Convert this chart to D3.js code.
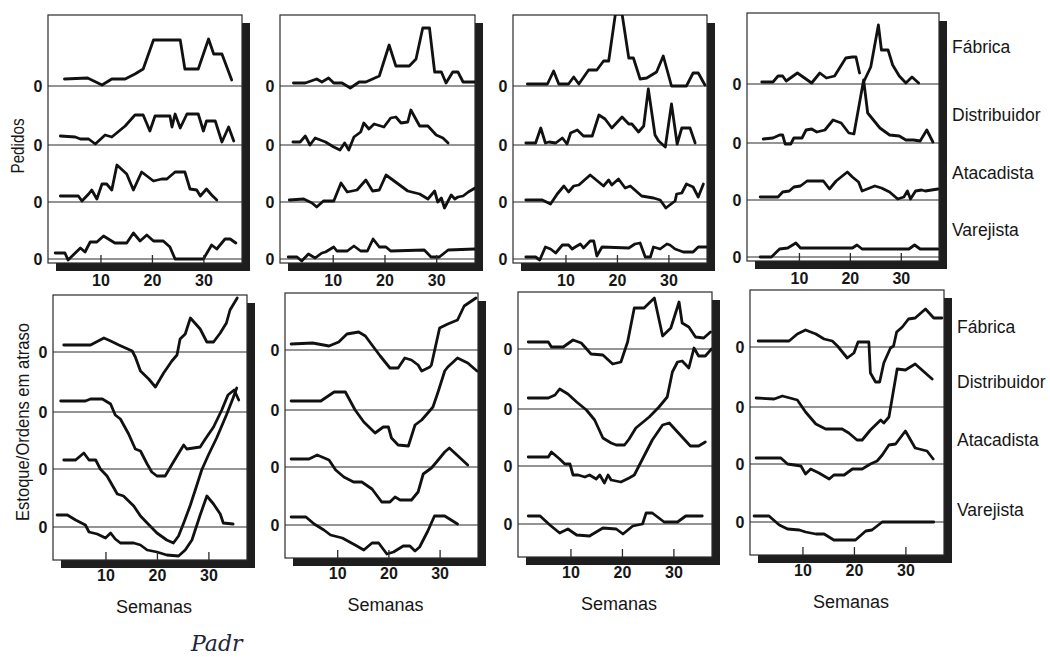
<!DOCTYPE html>
<html>
<head>
<meta charset="utf-8">
<script src="https://cdn.jsdelivr.net/npm/d3@7"></script>
<style>
  body { margin: 0; background: #fff; }
  svg { display: block; }
</style>
</head>
<body>
<svg id="chart" width="1050" height="657"></svg>
<script>
// Supply-chain roles, top to bottom in every panel
const roles = ["Fábrica", "Distribuidor", "Atacadista", "Varejista"];
const weekTicks = [10, 20, 30];

// Weekly orders (Pedidos) per game, pairs [week, orders]
const ped1Fab = [[3,7],[7.5,8],[10.3,1],[12.2,7],[14.8,7],[16.7,12],[18.3,17],[20.3,46],[25.5,46],[26.4,17],[29,17],[31,47],[32,32],[33.6,32],[35.5,6]];
const ped1Dis = [[2.2,9],[5.1,8],[6.1,6],[7.7,6],[9,1],[10.9,10],[12.2,8],[14.8,19],[16.7,30],[18.3,30],[19.6,14],[20.6,29],[23.5,29],[23.9,18],[24.5,31],[25.5,17],[26.8,31],[29,31],[30,14],[30.6,24],[32.3,24],[33.6,3],[34.9,18],[35.9,4]];
const ped1Ata = [[2.2,6],[5.7,6],[6.4,1],[7.7,8],[8.3,12],[9.3,3],[10.3,18],[11.2,18],[12.2,12],[13.2,37],[15.1,28],[16.4,12],[18,30],[20.3,21],[21.9,23],[22.9,23],[24.5,30],[26.4,30],[27.4,13],[28.7,12],[29.4,6],[30.6,13],[31.6,7],[32.6,2]];
const ped1Var = [[1.2,6],[3.1,6],[3.7,-1],[6.1,11],[7,7],[8,17],[9.3,17],[10.6,23],[12.8,16],[15.1,16],[16.4,26],[17.7,18],[19,24],[20.3,18],[22.2,18],[23.5,12],[24.5,0],[30,0],[31.6,14],[32.6,10],[34.2,20],[35.2,20],[36.3,16]];

const ped2Fab = [[2.4,3],[4.7,3],[6.9,7],[7.9,4],[9.2,8],[10.2,3],[11.8,3],[13.4,-2],[15.1,4],[16.4,4],[17.7,7],[19,10],[20.9,41],[22.2,20],[24.8,20],[26.1,27],[27.4,58],[28.7,58],[29.7,14],[31,14],[31.9,3],[33.2,14],[34.2,14],[35.2,4],[37.5,4]];
const ped2Dis = [[2.3,3],[3.7,3],[4.7,9],[5.6,0],[6.6,7],[8.6,3],[10.2,-2],[11.4,-5],[12.3,2],[13.1,-5],[14.1,8],[15.4,13],[16,22],[17,16],[18,21],[19.9,18],[21.2,27],[22.2,28],[23.2,22],[24.5,23],[25.1,35],[26.8,19],[28.4,19],[30,10],[31.3,7],[32.3,2]];
const ped2Ata = [[1.6,2],[4.4,3],[6,-1],[6.9,-5],[8.2,1],[10.2,1],[11.6,19],[12.8,10],[14.7,12],[16.4,22],[17.7,11],[19,12],[20.3,27],[24.5,11],[26.8,8],[28.4,3],[29.7,11],[30.3,0],[31,4],[31.6,-6],[32.3,1],[32.9,7],[33.6,3],[34.2,5],[35.2,6],[36.2,10],[37.5,14]];
const ped2Var = [[1.4,2],[3.1,2],[4,-2],[5.3,5],[6.6,1],[7.9,6],[8.6,7],[10.2,12],[10.8,8],[12.8,8],[14.1,13],[15.4,8],[16.7,8],[17.8,20],[19,12],[20.3,12],[21.2,8],[27.7,9],[29,2],[30.6,2],[32.3,9],[37.5,10]];

const ped3Fab = [[2.6,2],[6.5,2],[7.7,15],[8.7,2],[10.6,2],[11.6,9],[12.6,2],[14.5,16],[16.1,16],[17.4,25],[18.4,25],[19.7,72],[21,72],[22.3,28],[23.2,28],[24.5,7],[25.8,8],[27.7,14],[29,30],[30.6,0],[33.5,0],[34.8,13],[35.8,13],[37.1,1]];
const ped3Dis = [[2.3,2],[4.2,2],[5.2,17],[6.1,2],[6.8,3],[8.1,2],[9.4,7],[10.3,1],[11,12],[12.3,15],[13.5,9],[15.2,9],[16.5,30],[17.7,26],[19,17],[21,28],[22.3,21],[22.9,21],[24.2,13],[25.2,19],[26.1,56],[27.4,10],[28.1,4],[29.4,-2],[30.6,41],[31.7,1],[32.6,17],[34.2,17],[35.2,2]];
const ped3Ata = [[2.3,2],[5.5,2],[7.1,-2],[8.4,8],[9.7,16],[10.6,10],[11.6,16],[12.6,17],[14.8,27],[17.4,16],[18.4,22],[19,17],[20.3,23],[21.6,14],[22.6,16],[24.8,6],[27.1,4],[28.4,2],[29.5,-6],[31.3,1],[31.6,8],[32.6,9],[33.5,18],[34.8,15],[35.8,5],[36.8,18]];
const ped3Var = [[2.3,2],[4.2,2],[5,-1],[6.1,12],[7.1,10],[8.1,6],[9.4,14],[10.6,14],[11.3,10],[11.9,12],[12.9,15],[13.5,11],[14.8,18],[15.5,18],[16.1,3],[17.1,12],[22.3,11],[23.5,15],[24.5,16],[25.5,2],[26.5,2],[27.1,12],[28.4,10],[29.7,15],[30.3,14],[31.3,10],[32.9,7],[34.8,7],[35.8,12],[37.4,12]];

const ped4Fab = [[2.7,2],[4.9,2],[5.9,8],[6.8,8],[7.5,3],[9.7,11],[12.5,1],[14.1,11],[15.4,6],[17,8],[19.2,26],[20.5,27],[21.2,27],[21.9,11],[22.3,null],[22.7,2],[24.1,17],[25.6,59],[26.2,34],[27.5,34],[28.4,19],[29.7,8],[31,1],[32.2,7],[33.5,1]];
const ped4Dis = [[3,4],[4.9,5],[6.2,8],[6.8,8],[7.3,-1],[8.4,-1],[9,5],[10.6,5],[11.4,13],[12.5,14],[13.5,11],[15.1,13],[16.7,23],[18.3,20],[19.8,10],[20.8,9],[22.7,63],[23.5,30],[25.9,15],[27.8,8],[29.7,7],[31,3],[32.5,3],[33.8,2],[35.1,13],[36.3,1]];
const ped4Ata = [[2.4,3],[5.9,3],[6.8,8],[8.1,9],[9,13],[10.3,14],[11.6,19],[14.8,19],[16,11],[17.3,19],[19.5,28],[20.5,23],[21.7,18],[22.4,9],[24.9,14],[26.2,12],[27.8,8],[29.4,1],[30.6,3],[31.3,9],[31.9,1],[32.9,9],[34.1,10],[34.8,9],[37.3,11]];
const ped4Var = [[2.4,0],[4.6,0],[6.2,8],[7.8,9],[9.4,14],[10.3,9],[20.5,9],[21.4,12],[22.4,8],[31.6,8],[32.7,12],[33.8,8],[37.3,8]];

// Net inventory / backlog (Estoque/Ordens em atraso) per game, pairs [week, units]
const est1Fab = [[1.9,7],[7.1,7],[9.7,14],[11,11],[12.6,7],[13.9,4],[15.2,1],[15.8,-5],[16.8,-19],[18.4,-27],[19.7,-35],[21.3,-21],[22.9,-9],[23.9,-3],[24.5,13],[25.5,18],[26.5,34],[28.4,23],[29.7,10],[31,10],[32.3,19],[33.5,29],[34.2,42],[35.6,54]];
const est1Dis = [[1.3,11],[6.1,11],[7.1,13],[9.4,13],[11,8],[11.9,-3],[12.9,-7],[14.5,-22],[15.8,-37],[16.8,-39],[18.1,-52],[19,-60],[20,-64],[21.6,-64],[23.2,-50],[25.2,-33],[25.8,-37],[27.1,-36],[28.4,-35],[29.4,-27],[31,-15],[32.6,2],[33.8,17],[35,22],[35.9,12]];
const est1Ata = [[1.9,9],[4.2,9],[5.8,16],[6.8,9],[8.1,9],[9,0],[10.3,-7],[12.3,-25],[13.5,-27],[15.5,-37],[16.8,-47],[18.1,-54],[20,-64],[21.9,-71],[23.2,-74],[24.2,-67],[25.2,-54],[26.5,-36],[27.7,-17],[28.7,-1],[30,14],[31.6,31],[33.5,54],[34.8,71],[35.5,81]];
const est1Var = [[0.6,12],[2.6,12],[4.2,7],[6.1,2],[6.8,-5],[8.4,-7],[10,-11],[11,-6],[11.9,-12],[12.9,-16],[15.5,-16],[16.8,-18],[18.1,-23],[20,-25],[21.9,-28],[24.2,-29],[25.5,-23],[26.8,-13],[28.4,12],[29.7,31],[31,23],[32.3,13],[32.9,4],[34.8,3]];

const est2Fab = [[1,6],[5.2,7],[8.4,4],[10.3,8],[11.9,16],[14.2,18],[15.5,14],[16.8,5],[18.4,-6],[20.3,-18],[21.9,-18],[23.2,-8],[24.5,-10],[25.8,-15],[26.5,-21],[28.1,-17],[28.4,-15],[30,22],[31.6,26],[33.5,30],[34.8,44],[37.1,52]];
const est2Dis = [[1,9],[6.8,9],[9.4,18],[11.6,18],[13.5,0],[15.2,-12],[17.4,-23],[19,-17],[20,-17],[20.6,-28],[21.9,-35],[23.9,-36],[25.2,-15],[26.5,-10],[27.7,-3],[28.7,3],[29.7,18],[31,39],[31.6,43],[33.5,52],[35.5,47],[37.3,39]];
const est2Ata = [[1,8],[4.5,8],[6.1,12],[8.4,7],[9.7,-3],[11.3,-10],[13.2,-15],[14.8,-15],[16.8,-22],[18.7,-35],[20.3,-35],[21.3,-30],[22.3,-33],[24.5,-33],[25.8,-25],[26.8,-7],[28.4,-1],[29.4,5],[31,15],[31.9,19],[35.5,2]];
const est2Var = [[1,8],[3.9,8],[5.5,1],[7.4,-5],[8.7,-10],[11,-13],[13.5,-20],[15.2,-25],[16.8,-18],[18.1,-18],[19.7,-29],[21,-27],[22.9,-21],[24.2,-21],[25.2,-26],[26.1,-22],[27.7,-6],[29,9],[31,9],[33.5,1]];

const est3Fab = [[1.8,7],[5.7,7],[6.3,2],[8.6,2],[10.5,9],[12.1,6],[14,-5],[16.3,-6],[18.2,-15],[19.8,-13],[21.1,7],[22.4,41],[24.3,41],[26.3,51],[27.9,13],[29.5,21],[31.1,47],[31.7,26],[33,22],[34.3,12],[35.9,11],[37.2,17]];
const est3Dis = [[1.8,11],[5.7,11],[7,14],[7.9,20],[9.5,15],[11.2,7],[13.1,-1],[14.7,-11],[16.3,-29],[17.9,-34],[18.9,-36],[20.5,-36],[21.4,-30],[22.7,-19],[25.3,-8],[27.2,2],[28.8,12],[29.8,37],[30.8,47],[31.7,48],[33,41],[34,61],[34.9,53],[36.2,53],[37.4,60]];
const est3Ata = [[1.8,9],[5.7,9],[6.3,14],[7.9,7],[8.9,2],[9.9,2],[10.5,-9],[11.5,-9],[12.8,-11],[13.7,-9],[15,-13],[15.7,-9],[16.6,-17],[17.3,-9],[17.9,-14],[19.8,-16],[21.4,-12],[22.4,-9],[24,7],[25.9,26],[27.9,41],[29.2,43],[30.8,34],[33.3,20],[34.9,20],[36.2,24]];
const est3Var = [[1.8,8],[4.1,8],[6,-1],[7.9,-9],[9.5,-5],[11.2,-11],[13.7,-12],[16.3,-4],[18.9,-5],[20.2,-10],[22.1,-2],[24,0],[24.7,11],[25.9,11],[28.2,2],[30.8,2],[32.4,8],[35.6,8]];

const est4Fab = [[1.4,6],[7.4,6],[9,13],[10.6,17],[12.6,13],[14.2,8],[15.8,6],[16.8,1],[18.7,-11],[20,-6],[20.8,5],[22.9,5],[23.2,-26],[24.2,-35],[25,-35],[25.8,-16],[27.1,-1],[27.7,1],[28.3,15],[29.4,20],[30.6,28],[31.9,29],[33.9,38],[35.5,29],[37.1,29]];
const est4Dis = [[1,9],[4.5,8],[6.1,11],[9,7],[10.6,-5],[12.6,-17],[14.5,-22],[17.7,-22],[19,-26],[20.6,-33],[21.6,-33],[23.2,-23],[25.2,-13],[25.8,-16],[26.8,-10],[28.4,38],[30,37],[31.9,43],[35.2,28]];
const est4Ata = [[1,6],[5.8,6],[7.1,0],[9.7,-2],[10.6,-10],[11.6,-5],[13.2,-9],[15.2,-15],[16.1,-11],[18.1,-11],[19.7,-5],[21.6,-5],[23.2,0],[24.5,3],[25.5,9],[26.8,19],[28.1,20],[30,33],[31.9,16],[34.2,13],[35.4,5]];
const est4Var = [[0.6,6],[3.5,6],[5.5,-3],[7.1,-7],[9.4,-8],[10.6,-10],[12.6,-12],[14.2,-12],[16.1,-18],[17.7,-18],[20.3,-18],[22.3,-9],[23.5,-8],[25.5,0],[35.5,0]];

// Group the series per game (columns), role order as in `roles`
const pedidos = [
  [ped1Fab, ped1Dis, ped1Ata, ped1Var],
  [ped2Fab, ped2Dis, ped2Ata, ped2Var],
  [ped3Fab, ped3Dis, ped3Ata, ped3Var],
  [ped4Fab, ped4Dis, ped4Ata, ped4Var]
];
const estoque = [
  [est1Fab, est1Dis, est1Ata, est1Var],
  [est2Fab, est2Dis, est2Ata, est2Var],
  [est3Fab, est3Dis, est3Ata, est3Var],
  [est4Fab, est4Dis, est4Ata, est4Var]
];

const svg = d3.select("#chart");
const FONT = "'Liberation Sans', Arial, Helvetica, sans-serif";
const INK = "#161616";
const WEEK_MAX = 37.5;     // weeks covered by a panel

svg.append("rect").attr("width", 1050).attr("height", 657).attr("fill", "#fff");

// Layout of the two rows of small multiples
const rows = [
  { name: "ped", series: pedidos, lefts: [48, 280, 513, 747], widths: [194, 195, 194, 192],
    tops: [15, 15, 15, 13], h: 248,
    bases: [71, 130, 187, 244], tickPad: 12, roleY: [34, 102, 160, 217], semanas: false },
  { name: "est", series: estoque, lefts: [53, 285, 518, 750], widths: [194, 193, 194, 194],
    tops: [295, 293, 292, 290], h: 265,
    bases: [57, 117, 174, 232], tickPad: 10, roleY: [37, 92, 150, 220], semanas: true }
];

rows.forEach((row) => {
  row.series.forEach((game, g) => {
    const x0 = row.lefts[g], y0 = row.tops[g], PW = row.widths[g];
    const x = d3.scaleLinear().domain([0, WEEK_MAX]).range([x0 + 1, x0 + PW]);
    const panel = svg.append("g");

    // drop shadow on the right and bottom
    panel.append("rect")
      .attr("x", x0 + 8).attr("y", y0 + 8)
      .attr("width", PW).attr("height", row.h)
      .attr("fill", "#1e1e1e");
    panel.append("rect")
      .attr("x", x0).attr("y", y0)
      .attr("width", PW).attr("height", row.h)
      .attr("fill", "#fff").attr("stroke", "#2a2a2a").attr("stroke-width", 1.2);

    const clipId = `clip-${row.name}-${g}`;
    panel.append("clipPath").attr("id", clipId)
      .append("rect").attr("x", x0).attr("y", y0).attr("width", PW).attr("height", row.h);

    roles.forEach((role, k) => {
      const base = y0 + row.bases[k];
      const y = d3.scaleLinear().domain([0, 50]).range([base, base - 50]);

      // zero reference line
      panel.append("line")
        .attr("x1", x0).attr("x2", x0 + PW)
        .attr("y1", y(0)).attr("y2", y(0))
        .attr("stroke", "#2a2a2a").attr("stroke-width", 1.1);

      // zero label on the left
      panel.append("text")
        .attr("x", x0 - 10).attr("y", y(0))
        .attr("text-anchor", "middle").attr("dominant-baseline", "central")
        .attr("font-family", FONT).attr("font-size", 16).attr("font-weight", "bold")
        .attr("fill", INK).text("0");

      const line = d3.line()
        .defined(d => d[1] !== null)
        .x(d => x(d[0]))
        .y(d => y(d[1]));

      panel.append("path")
        .datum(game[k])
        .attr("clip-path", `url(#${clipId})`)
        .attr("fill", "none")
        .attr("stroke", "#111")
        .attr("stroke-width", 2.8)
        .attr("stroke-linejoin", "round")
        .attr("stroke-linecap", "round")
        .attr("d", line);
    });

    // week axis: inward ticks, labels below the frame
    const axis = d3.axisBottom(x)
      .tickValues(weekTicks)
      .tickSizeInner(-8)
      .tickSizeOuter(0)
      .tickPadding(row.tickPad);
    const ax = panel.append("g")
      .attr("transform", `translate(0,${y0 + row.h})`)
      .call(axis);
    ax.select(".domain").remove();
    ax.selectAll(".tick line").attr("stroke", "#2a2a2a").attr("stroke-width", 1.3);
    ax.selectAll(".tick text")
      .attr("font-family", FONT).attr("font-size", 16).attr("font-weight", "bold")
      .attr("fill", INK);

    if (row.semanas) {
      panel.append("text")
        .attr("x", x0 + PW / 2 + 4).attr("y", y0 + row.h + 47)
        .attr("text-anchor", "middle").attr("dominant-baseline", "central")
        .attr("font-family", FONT).attr("font-size", 18)
        .attr("fill", INK).text("Semanas");
    }

    // role names to the right of the last column
    if (g === row.series.length - 1) {
      roles.forEach((role, k) => {
        panel.append("text")
          .attr("x", x0 + PW + 13).attr("y", y0 + row.roleY[k])
          .attr("dominant-baseline", "central")
          .attr("font-family", FONT).attr("font-size", 17.5)
          .attr("fill", INK).text(role);
      });
    }
  });
});

// vertical row titles
svg.append("text")
  .attr("transform", "translate(18,146) rotate(-90)")
  .attr("text-anchor", "middle").attr("dominant-baseline", "central")
  .attr("font-family", FONT).attr("font-size", 17.5)
  .attr("textLength", 55).attr("lengthAdjust", "spacingAndGlyphs")
  .attr("fill", INK).text("Pedidos");

svg.append("text")
  .attr("transform", "translate(23,422) rotate(-90)")
  .attr("text-anchor", "middle").attr("dominant-baseline", "central")
  .attr("font-family", FONT).attr("font-size", 17.5)
  .attr("textLength", 198).attr("lengthAdjust", "spacingAndGlyphs")
  .attr("fill", INK).text("Estoque/Ordens em atraso");

// running caption fragment at the foot of the page
svg.append("text")
  .attr("x", 191).attr("y", 651)
  .attr("font-family", "'DejaVu Serif', 'Liberation Serif', serif")
  .attr("font-style", "italic").attr("font-size", 22)
  .attr("fill", "#22243a").text("Padr");
</script>
</body>
</html>
